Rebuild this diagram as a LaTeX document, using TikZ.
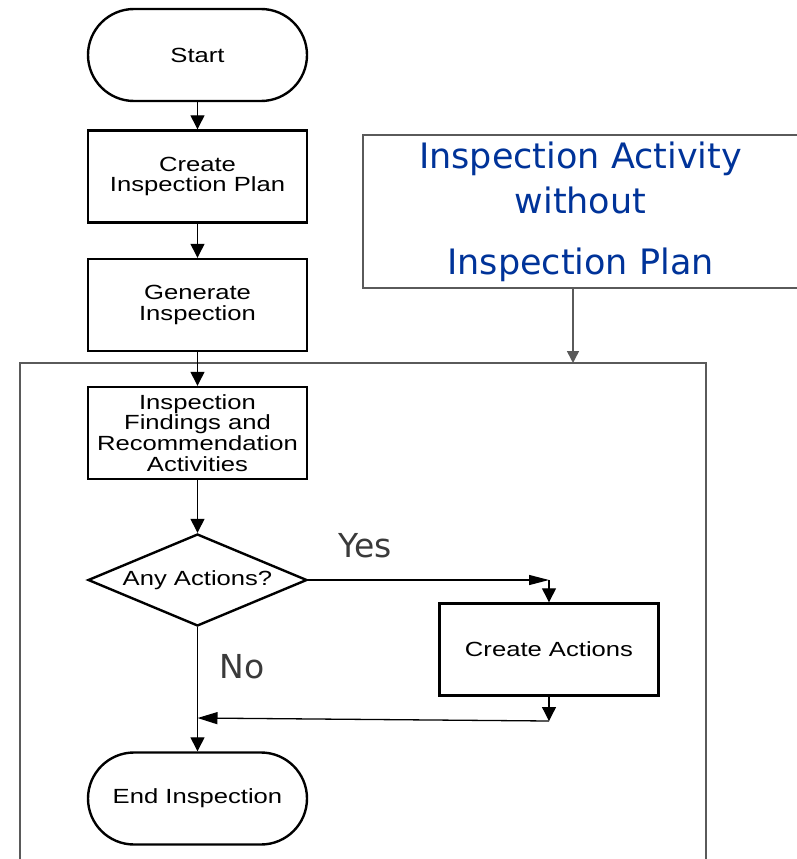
\documentclass[tikz,border=0pt]{standalone}
\usepackage{fontspec}
\usepackage{xcolor}
\usetikzlibrary{shapes.geometric,arrows.meta}
\newfontfamily\flowfont{Liberation Sans}[FakeStretch=1.25]
\newfontfamily\notefont{DejaVu Sans}
\definecolor{flowink}{HTML}{000000}
\definecolor{frameink}{HTML}{5A5A5A}
\definecolor{noteblue}{HTML}{003399}
\definecolor{labelgrey}{HTML}{3A3A3A}
\newcommand{\flowtext}{\flowfont\fontsize{20.5}{20.7}\selectfont}
\newcommand{\notetext}{\notefont\fontsize{35}{45}\selectfont}
\tikzset{
  terminal/.style={draw=flowink, line width=2.4pt, rounded corners=46pt,
    minimum width=219pt, minimum height=92pt, inner sep=0pt, font=\flowtext},
  procbox/.style={draw=flowink, line width=2.4pt, minimum width=219pt,
    minimum height=92pt, inner sep=0pt, align=center, font=\flowtext},
  decision/.style={draw=flowink, line width=2.4pt, diamond, aspect=2.38,
    minimum width=219pt, minimum height=92pt, inner sep=0pt, font=\flowtext},
  notebox/.style={draw=frameink, line width=1.5pt, minimum width=435pt,
    minimum height=153pt, align=center, text=noteblue, font=\notetext},
  branchlabel/.style={labelgrey, anchor=base, font=\notefont\fontsize{33}{33}\selectfont},
  flowline/.style={flowink, line width=1.3pt},
  flowarrow/.style={flowline, -{Triangle[width=14pt,length=14pt]}},
  notearrow/.style={frameink, line width=1.5pt, -{Triangle[width=12pt,length=12pt]}}
}

\begin{document}
\begin{tikzpicture}[x=1pt, y=-1pt]

  \useasboundingbox (0,0) rectangle (797,859);

  \draw[frameink, line width=1.5pt] (20,870) -- (20,363) -- (706,363) -- (706,870);
  \coordinate (frametop) at (573,363);

  \node[terminal] (start) at (197.5,55) {Start};
  \node[procbox] (plan) at (197.5,176.5) {Create\\Inspection Plan};
  \node[procbox] (generate) at (197.5,305) {Generate\\Inspection};
  \node[procbox] (findings) at (197.5,433) {Inspection\\Findings and\\Recommendation\\Activities};
  \node[decision] (anyact) at (197.5,580) {Any Actions?};
  \node[procbox] (createact) at (549,649.5) {Create Actions};
  \node[terminal] (finish) at (197.5,798.5) {End Inspection};

  \node[notebox] (noplan) at (580.5,211.5) {Inspection Activity\\without\\[16pt]Inspection Plan};

  \node[branchlabel] (yes) at (365,557) {Yes};
  \node[branchlabel] (no) at (242,678) {No};

  \coordinate (yesturn) at (549,580);
  \coordinate (backturn) at (549,721);
  \coordinate (merge) at (197.5,718);

  \draw[flowarrow] (start) -- (plan);
  \draw[flowarrow] (plan) -- (generate);
  \draw[flowarrow] (generate) -- (findings);
  \draw[flowarrow] (findings) -- (anyact);
  \draw[flowarrow] (anyact) -- (finish);
  \draw[flowline, -{Triangle[width=10pt,length=20pt]}] (anyact.east) -- (yesturn);
  \draw[flowarrow] (yesturn) -- (createact.north);
  \draw[flowarrow] (createact.south) -- (backturn);
  \draw[flowline, -{Triangle[width=12pt,length=20pt]}] (backturn) -- (merge);
  \draw[notearrow] (noplan.south -| frametop) -- (frametop);

\end{tikzpicture}
\end{document}
